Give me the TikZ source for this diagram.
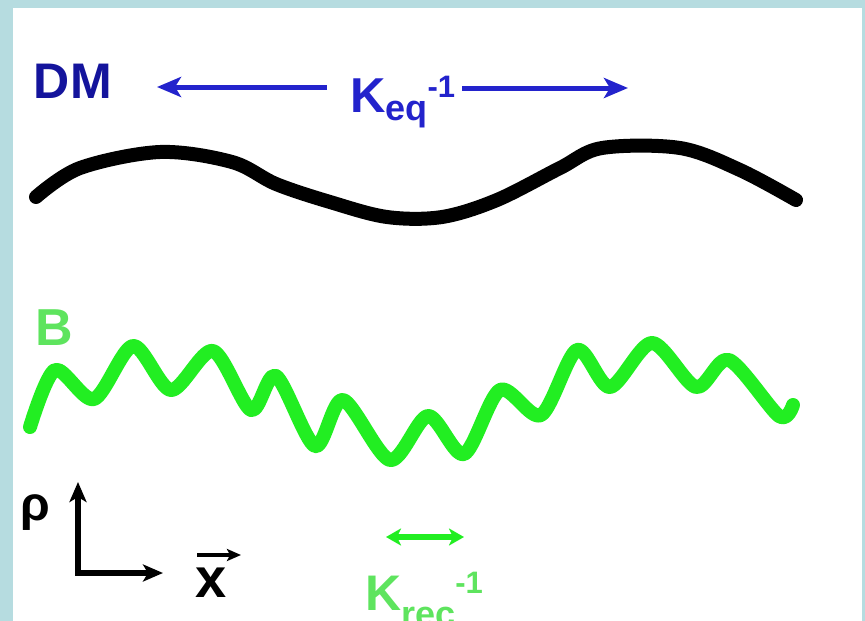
\documentclass[tikz,border=0pt]{standalone}
\usepackage{fontspec}
\setmainfont{Liberation Sans}
\usetikzlibrary{arrows.meta}
\definecolor{framec}{HTML}{B6DCE0}
\definecolor{dmblue}{HTML}{14149C}
\definecolor{kblue}{HTML}{2323CC}
\definecolor{bgreen}{HTML}{22EE22}
\definecolor{lgreen}{HTML}{5EE45E}
\tikzset{
  lbl/.style={anchor=base west, inner sep=0pt},
  bluearrow/.style={draw=kblue, line width=5pt, -{Stealth[length=24pt,width=20pt,inset=6pt]}},
  greenarrow/.style={draw=bgreen, line width=6pt, {Stealth[length=15pt,width=17pt,inset=4pt]}-{Stealth[length=15pt,width=17pt,inset=4pt]}},
  axisline/.style={draw=black, line width=6pt, {Stealth[length=20pt,width=17pt,inset=5pt]}-{Stealth[length=20pt,width=17pt,inset=5pt]}},
  curve/.style={line width=14pt, line cap=round, line join=round}
}
\begin{document}
\begin{tikzpicture}[x=1pt,y=-1pt]
\fill[framec] (0,0) rectangle (865,621);
\fill[white] (13,8) rectangle (862,621);
\useasboundingbox (0,0) rectangle (865,621);

% labels
\node[lbl, text=dmblue, font=\fontsize{50}{50}\selectfont\bfseries] (dm) at (33,98) {D\kern1pt M};
\node[lbl, text=kblue, font=\fontsize{49}{49}\selectfont\bfseries] (keq) at (350,112)
  {K\raisebox{-8pt}{\fontsize{36}{36}\selectfont\bfseries eq}\raisebox{15pt}{\fontsize{31}{31}\selectfont\bfseries -1}};
\coordinate (kl) at (327,87);
\coordinate (klt) at (157,87);
\coordinate (kr) at (462,88);
\coordinate (krt) at (628,88);
\draw[bluearrow] (kl) -- (klt);
\draw[bluearrow] (kr) -- (krt);

% dark matter curve
\draw[curve, black] plot[smooth, tension=0.55] coordinates {
  (36,197) (80,168) (160,152) (232,162) (276,184) (330,202) (387,217) (442,217)
  (497,200) (560,168) (602,148) (680,148) (740,170) (796,200)};

% baryon label and curve
\node[lbl, text=lgreen, font=\fontsize{52}{52}\selectfont\bfseries] (b) at (35,345) {B};
\draw[curve, bgreen] plot[smooth, tension=0.5] coordinates {
  (30,427) (55,370) (94,399) (133,346) (171,390) (213,351) (251,410) (276,376)
  (315,446) (343,400) (390,460) (428,416) (464,454) (500,390) (541,415) (577,350)
  (610,387) (652,343) (696,387) (729,360) (779,416) (793,405)};

% axes
\coordinate (ytop) at (78,482);
\coordinate (orig) at (78,573);
\coordinate (xend) at (163,573);
\draw[axisline, line join=miter] (ytop) -- (orig) -- (xend);
\node[lbl, font=\fontsize{48}{48}\selectfont\bfseries] (rho) at (20,520) {ρ};
\node[lbl, font=\fontsize{56}{56}\selectfont\bfseries] (xv) at (195,597) {x};
\coordinate (xa) at (197,555);
\coordinate (xb) at (241,555);
\draw[line width=3.5pt, -{Stealth[length=14pt,width=12pt,inset=3pt]}] (xa) -- (xb);

% recombination scale
\coordinate (ga) at (386,537);
\coordinate (gb) at (464,537);
\draw[greenarrow] (ga) -- (gb);
\node[lbl, text=lgreen, font=\fontsize{50}{50}\selectfont\bfseries] (krec) at (365,610)
  {K\raisebox{-16pt}{\fontsize{36}{36}\selectfont rec}\raisebox{17pt}{\fontsize{31}{31}\selectfont\bfseries -1}};
\end{tikzpicture}
\end{document}
